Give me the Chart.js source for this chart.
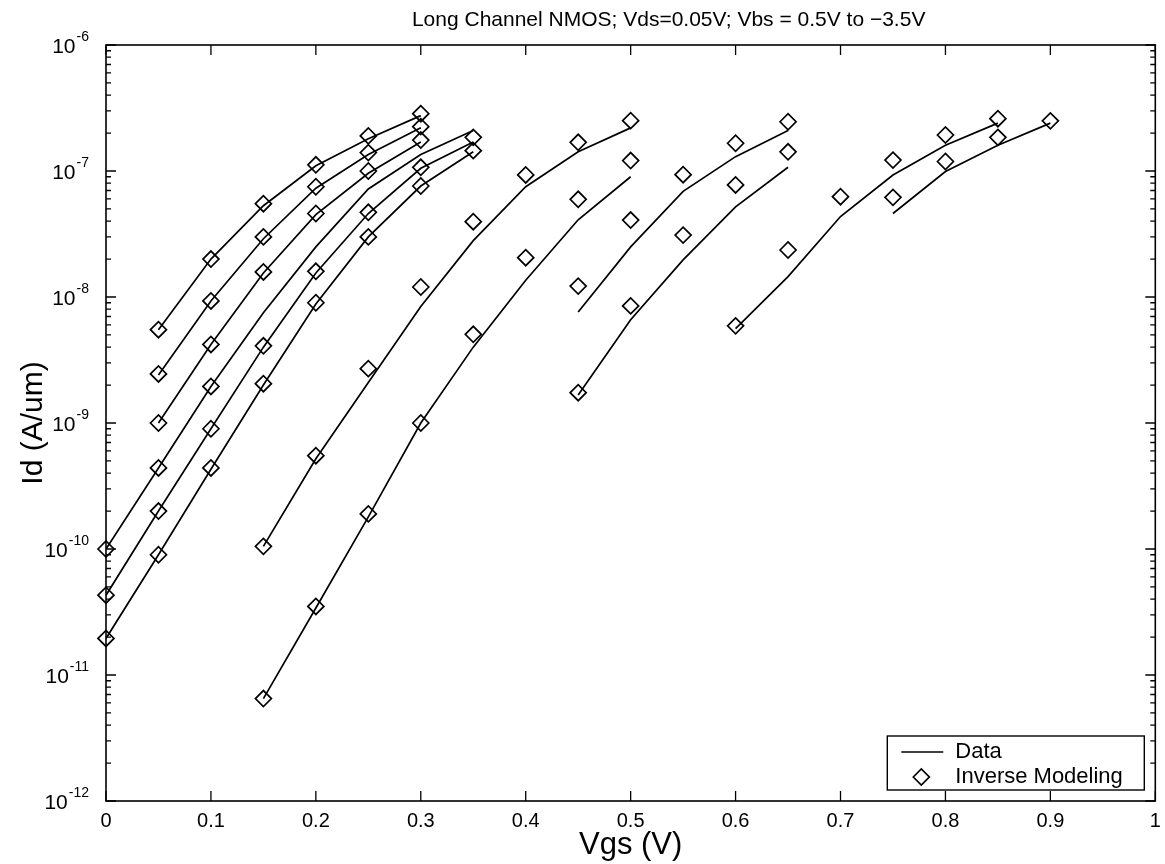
<!DOCTYPE html>
<html>
<head>
<meta charset="utf-8">
<script src="https://cdn.jsdelivr.net/npm/chart.js@4.4.1/dist/chart.umd.min.js"></script>
<style>
html,body{margin:0;padding:0;background:#fff;}
#wrap{width:1165px;height:864px;position:relative;}
</style>
</head>
<body>
<div id="wrap"><canvas id="c" width="1165" height="864"></canvas></div>
<script>
// ---------------- data (Vgs [V], Id [A/um]) ----------------
const chartTitle = 'Long Channel NMOS; Vds=0.05V; Vbs = 0.5V to \u22123.5V';
const xTitle = 'Vgs (V)';
const yTitle = 'Id (A/um)';
const legendLabels = ['Data', 'Inverse Modeling'];
const xTickValues = [0, 0.1, 0.2, 0.3, 0.4, 0.5, 0.6, 0.7, 0.8, 0.9, 1];
const xTickLabels = ['0', '0.1', '0.2', '0.3', '0.4', '0.5', '0.6', '0.7', '0.8', '0.9', '1'];
const yTickValues = [1e-12, 1e-11, 1e-10, 1e-9, 1e-8, 1e-7, 1e-6];
const yTickBase = '10';
const yTickExponents = ['-12', '-11', '-10', '-9', '-8', '-7', '-6'];

// measured curves ("Data", solid lines)
const lineA = [[0.05,5.5e-9],[0.10,2.0e-8],[0.15,5.3e-8],[0.20,1.1e-7],[0.25,1.8e-7],[0.30,2.75e-7]];
const lineB = [[0.05,2.4e-9],[0.10,9.3e-9],[0.15,2.9e-8],[0.20,7.3e-8],[0.25,1.35e-7],[0.30,2.2e-7]];
const lineC = [[0.05,1.0e-9],[0.10,4.2e-9],[0.15,1.55e-8],[0.20,4.5e-8],[0.25,9.6e-8],[0.30,1.7e-7]];
const lineD = [[0.00,1.0e-10],[0.05,4.4e-10],[0.10,1.95e-9],[0.15,7.5e-9],[0.20,2.5e-8],[0.25,7.2e-8],[0.30,1.35e-7],[0.35,2.1e-7]];
const lineE = [[0.00,4.3e-11],[0.05,2.0e-10],[0.10,9.0e-10],[0.15,4.0e-9],[0.20,1.55e-8],[0.25,4.6e-8],[0.30,1.05e-7],[0.35,1.7e-7]];
const lineF = [[0.00,1.95e-11],[0.05,9.0e-11],[0.10,4.3e-10],[0.15,2.0e-9],[0.20,8.8e-9],[0.25,3.0e-8],[0.30,7.6e-8],[0.35,1.42e-7]];
const lineG = [[0.15,1.05e-10],[0.20,5.2e-10],[0.25,2.1e-9],[0.30,8.4e-9],[0.35,2.8e-8],[0.40,7.5e-8],[0.45,1.42e-7],[0.50,2.2e-7]];
const lineH = [[0.15,6.5e-12],[0.20,3.4e-11],[0.25,1.8e-10],[0.30,1.0e-9],[0.35,4.0e-9],[0.40,1.36e-8],[0.45,4.1e-8],[0.50,9.0e-8]];
const lineI = [[0.45,7.6e-9],[0.50,2.5e-8],[0.55,6.9e-8],[0.60,1.3e-7],[0.65,2.1e-7]];
const lineJ = [[0.45,1.67e-9],[0.50,6.6e-9],[0.55,1.97e-8],[0.60,5.2e-8],[0.65,1.07e-7]];
const lineK = [[0.60,5.6e-9],[0.65,1.45e-8],[0.70,4.35e-8],[0.75,9.3e-8],[0.80,1.6e-7],[0.85,2.4e-7]];
const lineL = [[0.75,4.6e-8],[0.80,9.9e-8],[0.85,1.6e-7],[0.90,2.4e-7]];

// model points ("Inverse Modeling", diamonds)
const markA = [[0.05,5.5e-9],[0.10,2.0e-8],[0.15,5.5e-8],[0.20,1.12e-7],[0.25,1.9e-7],[0.30,2.85e-7]];
const markB = [[0.05,2.45e-9],[0.10,9.3e-9],[0.15,3.0e-8],[0.20,7.5e-8],[0.25,1.4e-7],[0.30,2.25e-7]];
const markC = [[0.05,1.0e-9],[0.10,4.2e-9],[0.15,1.58e-8],[0.20,4.6e-8],[0.25,1.0e-7],[0.30,1.76e-7]];
const markD = [[0.00,1.0e-10],[0.05,4.4e-10],[0.10,1.95e-9]];
const markE = [[0.00,4.3e-11],[0.05,2.0e-10],[0.10,9.0e-10],[0.15,4.1e-9],[0.20,1.6e-8],[0.25,4.7e-8],[0.30,1.07e-7],[0.35,1.85e-7]];
const markF = [[0.00,1.95e-11],[0.05,9.0e-11],[0.10,4.4e-10],[0.15,2.05e-9],[0.20,9.0e-9],[0.25,3.0e-8],[0.30,7.6e-8],[0.35,1.45e-7]];
const markG = [[0.15,1.05e-10],[0.20,5.5e-10],[0.25,2.7e-9],[0.30,1.2e-8],[0.35,3.96e-8],[0.40,9.3e-8],[0.45,1.69e-7],[0.50,2.51e-7]];
const markH = [[0.15,6.5e-12],[0.20,3.5e-11],[0.25,1.9e-10],[0.30,1.0e-9],[0.35,5.06e-9],[0.40,2.05e-8],[0.45,5.96e-8],[0.50,1.21e-7]];
const markI = [[0.45,1.22e-8],[0.50,4.08e-8],[0.55,9.35e-8],[0.60,1.66e-7],[0.65,2.46e-7]];
const markJ = [[0.45,1.74e-9],[0.50,8.5e-9],[0.55,3.1e-8],[0.60,7.75e-8],[0.65,1.42e-7]];
const markK = [[0.60,5.9e-9],[0.65,2.36e-8],[0.70,6.25e-8],[0.75,1.22e-7],[0.80,1.93e-7],[0.85,2.6e-7]];
const markL = [[0.75,6.18e-8],[0.80,1.19e-7],[0.85,1.85e-7],[0.90,2.5e-7]];

const lineSets = [lineA, lineB, lineC, lineD, lineE, lineF, lineG, lineH, lineI, lineJ, lineK, lineL];
const markSets = [markA, markB, markC, markD, markE, markF, markG, markH, markI, markJ, markK, markL];

// ---------------- styling ----------------
const FONT = '"Liberation Sans", Arial, Helvetica, sans-serif';
const INK = '#000';
const MARK_R = 8;
const toXY = arr => arr.map(p => ({x: p[0], y: p[1]}));

const datasets = [];
lineSets.forEach(s => datasets.push({
  label: legendLabels[0], data: toXY(s), showLine: true, pointRadius: 0,
  borderColor: INK, borderWidth: 1.7, fill: false, tension: 0
}));
markSets.forEach(s => datasets.push({
  label: legendLabels[1], data: toXY(s), showLine: false, pointStyle: 'rectRot',
  pointRadius: MARK_R, pointBorderWidth: 1.7, pointBorderColor: INK,
  pointBackgroundColor: 'rgba(0,0,0,0)', clip: false
}));

function decadeSignificand(v) {
  const e = Math.floor(Math.log10(v) + 1e-9);
  return v / Math.pow(10, e);
}

const framePlugin = {
  id: 'frameTicks',
  afterDatasetsDraw(chart) {
    const {ctx, chartArea: a, scales: {x, y}} = chart;
    ctx.save();
    ctx.strokeStyle = INK;
    ctx.lineWidth = 1.3;
    ctx.beginPath();
    x.ticks.forEach(t => {
      const p = x.getPixelForValue(t.value);
      ctx.moveTo(p, a.bottom); ctx.lineTo(p, a.bottom - 10);
      ctx.moveTo(p, a.top); ctx.lineTo(p, a.top + 10);
    });
    y.ticks.forEach(t => {
      const m = decadeSignificand(t.value);
      const r = Math.round(m);
      if (Math.abs(m - r) > 1e-6 || r < 1 || r > 9) return;
      const len = r === 1 ? 10 : 5;
      const p = y.getPixelForValue(t.value);
      ctx.moveTo(a.left, p); ctx.lineTo(a.left + len, p);
      ctx.moveTo(a.right, p); ctx.lineTo(a.right - len, p);
    });
    ctx.stroke();
    ctx.lineWidth = 1.6;
    ctx.strokeRect(a.left, a.top, a.right - a.left, a.bottom - a.top);
    ctx.restore();
  }
};

// y tick labels "10" with a raised exponent, placed by the y scale
const yLabelPlugin = {
  id: 'yPowLabels',
  afterDraw(chart) {
    const {ctx, chartArea: a, scales: {y}} = chart;
    ctx.save();
    ctx.fillStyle = INK;
    ctx.textAlign = 'left';
    ctx.textBaseline = 'alphabetic';
    yTickValues.forEach((v, i) => {
      const py = y.getPixelForValue(v);
      ctx.font = '21px ' + FONT;
      const wb = ctx.measureText(yTickBase).width;
      ctx.font = '14px ' + FONT;
      const we = ctx.measureText(yTickExponents[i]).width;
      const x0 = a.left - 17 - wb - we - 1;
      ctx.font = '21px ' + FONT;
      ctx.fillText(yTickBase, x0, py + 7.5);
      ctx.font = '14px ' + FONT;
      ctx.fillText(yTickExponents[i], x0 + wb + 1, py - 4.5);
    });
    ctx.restore();
  }
};

const titlePlugin = {
  id: 'figTitle',
  afterDraw(chart) {
    const {ctx, chartArea: a} = chart;
    ctx.save();
    ctx.fillStyle = INK;
    ctx.font = '21px ' + FONT;
    ctx.textAlign = 'center';
    ctx.textBaseline = 'alphabetic';
    ctx.fillText(chartTitle, (a.left + a.right) / 2 + 38, a.top - 19);
    ctx.restore();
  }
};

const legendPlugin = {
  id: 'boxLegend',
  afterDraw(chart) {
    const {ctx, chartArea: a} = chart;
    const w = 257, h = 54;
    const x0 = a.right - 11 - w, y0 = a.bottom - 11 - h;
    ctx.save();
    ctx.fillStyle = '#fff';
    ctx.fillRect(x0, y0, w, h);
    ctx.strokeStyle = INK;
    ctx.lineWidth = 1.4;
    ctx.strokeRect(x0, y0, w, h);
    ctx.lineWidth = 1.7;
    ctx.beginPath();
    ctx.moveTo(x0 + 14, y0 + 16); ctx.lineTo(x0 + 56, y0 + 16);
    ctx.stroke();
    const cx = x0 + 34, cy = y0 + 41, r = MARK_R;
    ctx.beginPath();
    ctx.moveTo(cx - r, cy); ctx.lineTo(cx, cy - r); ctx.lineTo(cx + r, cy); ctx.lineTo(cx, cy + r);
    ctx.closePath();
    ctx.stroke();
    ctx.fillStyle = INK;
    ctx.font = '22px ' + FONT;
    ctx.textAlign = 'left';
    ctx.textBaseline = 'middle';
    ctx.fillText(legendLabels[0], x0 + 68, y0 + 16);
    ctx.fillText(legendLabels[1], x0 + 68, y0 + 41);
    ctx.restore();
  }
};

new Chart(document.getElementById('c').getContext('2d'), {
  type: 'scatter',
  data: {datasets},
  options: {
    responsive: false,
    animation: false,
    events: [],
    layout: {padding: {top: 45, right: 8, bottom: 0, left: 0}},
    plugins: {legend: {display: false}, tooltip: {enabled: false}, title: {display: false}},
    scales: {
      x: {
        type: 'linear', min: 0, max: 1,
        afterBuildTicks: s => { s.ticks = xTickValues.map(v => ({value: v})); },
        ticks: {
          color: INK, font: {family: FONT, size: 20}, padding: 8, autoSkip: false, maxRotation: 0,
          callback: v => { const i = xTickValues.findIndex(t => Math.abs(t - v) < 1e-9); return i >= 0 ? xTickLabels[i] : ''; }
        },
        grid: {display: false, drawTicks: false},
        border: {display: false},
        title: {display: true, text: xTitle, color: INK, font: {family: FONT, size: 31}, padding: {top: 0, bottom: 0}},
        afterFit: s => { s.height = 63; s.paddingLeft = 0; s.paddingRight = 0; }
      },
      y: {
        type: 'logarithmic', min: 1e-12, max: 1e-6,
        ticks: {display: false, autoSkip: false},
        grid: {display: false, drawTicks: false},
        border: {display: false},
        title: {display: true, text: yTitle, color: INK, font: {family: FONT, size: 30}, padding: {top: 16, bottom: 0}},
        afterFit: s => { s.width = 106; s.paddingTop = 0; s.paddingBottom = 0; }
      }
    }
  },
  plugins: [framePlugin, yLabelPlugin, titlePlugin, legendPlugin]
});
</script>
</body>
</html>
